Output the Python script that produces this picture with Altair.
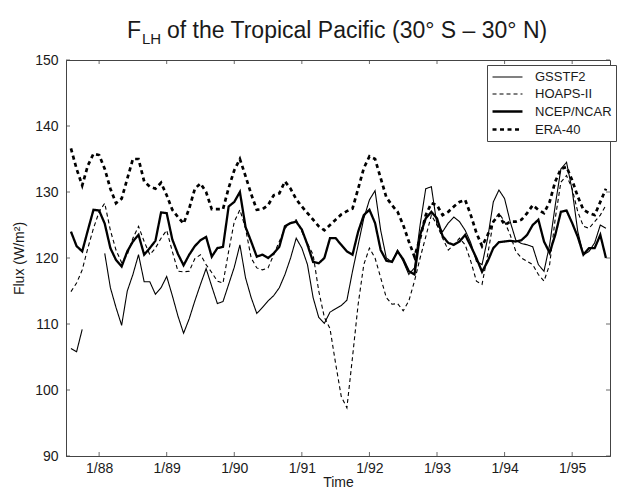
import altair as alt
import pandas as pd

# ---------------- data ----------------
series_names = ["GSSTF2", "HOAPS-II", "NCEP/NCAR", "ERA-40"]
start_year = 1987
start_month = 8          # first monthly value: Aug 1987
x_domain = [1987.51, 1995.56]
year_ticks = [1988, 1989, 1990, 1991, 1992, 1993, 1994, 1995]
flux_ticks = [90, 100, 110, 120, 130, 140, 150]

gsstf2 = [106.3, 105.8, 109.2, None, None, None, 120.7, 115.5, 112.5, 109.8, 115.0, 117.5,
          120.5, 116.4, 116.4, 114.5, 115.5, 117.2, 114.3, 111.2, 108.6, 110.8, 113.5, 116.0,
          118.4, 115.7, 113.1, 113.4, 116.0, 118.6, 122.0, 117.0, 114.0, 111.6, 112.5, 113.5,
          114.3, 115.5, 117.5, 120.0, 123.0, 121.5, 119.0, 114.0, 111.0, 110.1, 111.8, 112.3,
          112.8, 113.6, 118.0, 122.0, 126.0, 128.8, 130.2, 124.2, 120.0, 119.4, 121.2, 119.5,
          117.5, 118.5, 125.0, 130.5, 130.8, 125.0, 124.0, 125.3, 126.2, 125.5, 124.2, 122.3,
          119.5, 119.0, 123.0, 128.5, 130.3, 129.0, 125.5, 122.7, 122.2, 122.0, 121.7, 119.0,
          118.0, 122.0, 128.0, 133.5, 134.5, 130.3, 124.0, 120.5, 121.0, 122.3, 125.0, 124.5]

hoaps = [114.9, 116.2, 118.2, 121.5, 124.5, 127.0, 128.3, 124.2, 121.2, 119.3, 120.5, 123.0,
         124.8, 122.5, 120.5, 121.5, 123.0, 124.2, 121.0, 118.0, 117.9, 118.0, 119.9, 120.5,
         119.0, 117.8, 116.5, 116.2, 121.0, 125.5, 127.3, 124.5, 120.0, 118.5, 118.2, 118.5,
         120.5, 122.5, 124.5, 125.3, 125.8, 124.0, 122.2, 120.5, 115.0, 111.0, 109.3, 104.0,
         99.0, 97.3, 105.0, 113.0, 119.0, 121.5, 120.0, 117.0, 114.0, 113.0, 113.1, 112.0,
         113.5, 116.5, 120.0, 123.2, 126.5, 125.0, 123.0, 121.2, 122.0, 123.0, 122.0, 119.5,
         116.5, 116.0, 120.5, 125.5, 126.8, 125.5, 123.5, 121.0, 120.0, 119.5, 119.0, 117.5,
         116.5, 119.0, 126.0, 131.5, 132.5, 130.5, 127.0, 124.8, 124.5, 125.5, 126.5, 128.0]

ncep = [124.0, 121.8, 121.0, 124.2, 127.3, 127.2, 125.2, 121.5, 119.7, 118.7, 121.0, 122.5,
        123.5, 120.5, 121.5, 122.6, 126.9, 126.8, 122.8, 120.6, 118.9, 120.5, 121.8, 122.7,
        123.2, 120.2, 121.5, 121.7, 127.8, 128.5, 130.0, 124.7, 122.5, 120.2, 120.5, 120.0,
        120.7, 121.7, 124.8, 125.3, 125.5, 124.3, 122.0, 119.4, 119.2, 120.0, 123.0, 123.0,
        122.0, 121.0, 120.5, 124.0, 126.5, 127.3, 125.3, 121.2, 119.6, 119.4, 121.0, 119.8,
        118.0, 117.5, 123.5, 126.0, 127.0, 126.0, 123.3, 122.3, 122.0, 122.5, 123.5, 121.8,
        120.0, 117.9, 119.5, 121.5, 122.4, 122.5, 122.6, 122.5, 122.7, 123.5, 125.0, 125.8,
        122.5, 120.8, 123.5, 127.0, 127.2, 125.3, 123.2, 120.5, 121.5, 121.5, 123.5, 120.0]

era40 = [136.6, 133.5, 131.0, 134.0, 135.8, 135.6, 133.5, 130.5, 128.3, 129.0, 132.0, 135.0,
         135.0, 131.6, 130.8, 130.5, 131.4, 129.5, 127.3, 126.2, 125.2, 127.5, 130.5, 131.3,
         130.0, 127.4, 127.4, 127.4, 130.6, 133.3, 135.0, 132.4, 129.7, 127.3, 127.4, 128.0,
         129.5, 129.8, 131.6, 130.5, 128.9, 127.8, 126.8, 125.8, 124.8, 124.2, 125.0, 125.8,
         126.6, 127.1, 127.5, 130.5, 133.6, 135.4, 135.0, 132.1, 129.2, 128.0, 127.0, 125.0,
         122.5, 120.2, 123.0, 126.5, 128.3, 128.0, 126.5, 127.0, 127.8, 128.5, 128.8, 126.5,
         123.8, 121.8, 123.5, 125.5, 126.5, 125.0, 125.5, 125.5, 125.8, 126.8, 128.0, 127.3,
         126.8, 128.5, 131.6, 133.5, 133.8, 131.8, 129.3, 127.3, 126.8, 126.5, 128.5, 130.5]

# ---------------- long table ----------------
rows = []
for name, vals in zip(series_names, [gsstf2, hoaps, ncep, era40]):
    seg, gap = 0, False
    for k, v in enumerate(vals):
        if v is None:
            gap = True
            continue
        if gap:
            seg += 1
            gap = False
        t = start_year + (start_month - 1 + k) / 12.0
        rows.append({"t": t, "flux": v, "series": name, "seg": f"{name}#{seg}"})
df = pd.DataFrame(rows)

W, H = 544, 396
FONT = "Liberation Sans"
INK = "#1a1a1a"

leg = alt.Legend(
    title=None, orient="none", legendX=421, legendY=5, direction="vertical",
    strokeColor="#444", fillColor="white", padding=4,
    symbolType="M-2.14,0H2.14", symbolSize=196, symbolOffset=8,
    labelFont=FONT, labelFontSize=13, labelColor=INK, labelOffset=19, rowPadding=2,
)

x_axis = alt.Axis(values=year_ticks, labelExpr="'1/' + substring(toString(datum.value), 2, 4)",
                  title="Time", labelPadding=5, titlePadding=0)
y_axis = alt.Axis(values=flux_ticks, format="d", title="Flux (W/m²)",
                  labelPadding=8, titlePadding=8)
x_scale = alt.Scale(domain=x_domain, nice=False, zero=False)
y_scale = alt.Scale(domain=[90, 150], nice=False, zero=False)

lines = alt.Chart(df).mark_line(strokeCap="butt").encode(
    x=alt.X("t:Q", scale=x_scale, axis=x_axis),
    y=alt.Y("flux:Q", scale=y_scale, axis=y_axis),
    color=alt.Color("series:N", scale=alt.Scale(domain=series_names, range=["black"] * 4), legend=leg),
    strokeDash=alt.StrokeDash("series:N", scale=alt.Scale(domain=series_names,
                              range=[[1, 0], [4, 3], [1, 0], [4, 3.5]]), legend=leg),
    strokeWidth=alt.StrokeWidth("series:N", scale=alt.Scale(type="ordinal", domain=series_names,
                                range=[1.1, 1.1, 2.3, 2.7]), legend=leg),
    detail="seg:N",
)

# inward ticks (MATLAB style)
xt = pd.DataFrame({"t": year_ticks})
yt = pd.DataFrame({"flux": flux_ticks})
tick_style = dict(color="#444", strokeWidth=0.8)
xtick_bot = alt.Chart(xt).mark_rule(**tick_style).encode(
    x=alt.X("t:Q", scale=x_scale, axis=x_axis), y=alt.value(H), y2=alt.value(H - 4))
xtick_top = alt.Chart(xt).mark_rule(**tick_style).encode(
    x=alt.X("t:Q", scale=x_scale, axis=x_axis), y=alt.value(0), y2=alt.value(4))
ytick_l = alt.Chart(yt).mark_rule(**tick_style).encode(
    y=alt.Y("flux:Q", scale=y_scale, axis=y_axis), x=alt.value(0), x2=alt.value(4))
ytick_r = alt.Chart(yt).mark_rule(**tick_style).encode(
    y=alt.Y("flux:Q", scale=y_scale, axis=y_axis), x=alt.value(W), x2=alt.value(W - 4))

# title with subscript
one = pd.DataFrame({"a": [0]})
t_main = alt.Chart(one).mark_text(text="F", font=FONT, fontSize=23, align="left",
                                  baseline="alphabetic", color=INK).encode(
    x=alt.value(61), y=alt.value(-22))
t_sub = alt.Chart(one).mark_text(text="LH", font=FONT, fontSize=15, align="left",
                                 baseline="alphabetic", color=INK).encode(
    x=alt.value(76), y=alt.value(-16))
t_rest = alt.Chart(one).mark_text(text="of the Tropical Pacific (30° S – 30° N)", font=FONT,
                                  fontSize=23, align="left", baseline="alphabetic",
                                  color=INK).encode(
    x=alt.value(101), y=alt.value(-22))

chart = alt.layer(
    lines, xtick_bot, xtick_top, ytick_l, ytick_r, t_main, t_sub, t_rest
).properties(
    width=W, height=H,
    autosize=alt.AutoSizeParams(type="none"),
    padding={"left": 66, "top": 60, "right": 15, "bottom": 32},
    background="white",
).configure_view(
    stroke="#444", strokeWidth=1
).configure_axis(
    grid=False, tickSize=0, domainColor="#444", domainWidth=1,
    labelFont=FONT, labelFontSize=14, labelColor=INK,
    titleFont=FONT, titleFontSize=14, titleFontWeight="normal", titleColor=INK,
)

chart.save("out.html", embed_options={"renderer": "svg", "actions": False})
